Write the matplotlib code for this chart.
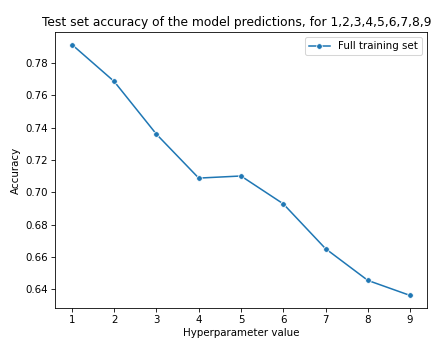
import matplotlib
matplotlib.use("Agg")
import matplotlib.pyplot as plt

x_values = [1, 2, 3, 4, 5, 6, 7, 8, 9]
accuracy = [0.7913, 0.7685, 0.7359, 0.7088, 0.7101, 0.6929, 0.6652, 0.6456, 0.6363]
series_label = "Full training set"
title = "Test set accuracy of the model predictions, for 1,2,3,4,5,6,7,8,9"

dpi = 73.7
fig = plt.figure(figsize=(438 / dpi, 341 / dpi), dpi=dpi)
ax = fig.add_axes([55 / 438, 1 - 308 / 341, (427 - 55) / 438, (308 - 32) / 341])
ax.plot(x_values, accuracy, marker="o", color="#1f77b4", label=series_label,
        markeredgecolor="white", markeredgewidth=0.75, markersize=5.5)
ax.set_xticks(x_values)
ax.set_xlabel("Hyperparameter value", labelpad=3)
ax.set_ylabel("Accuracy")
ax.set_title(title, x=0.488)
ax.legend(loc="upper right")
fig.savefig("out.png", dpi=dpi)
